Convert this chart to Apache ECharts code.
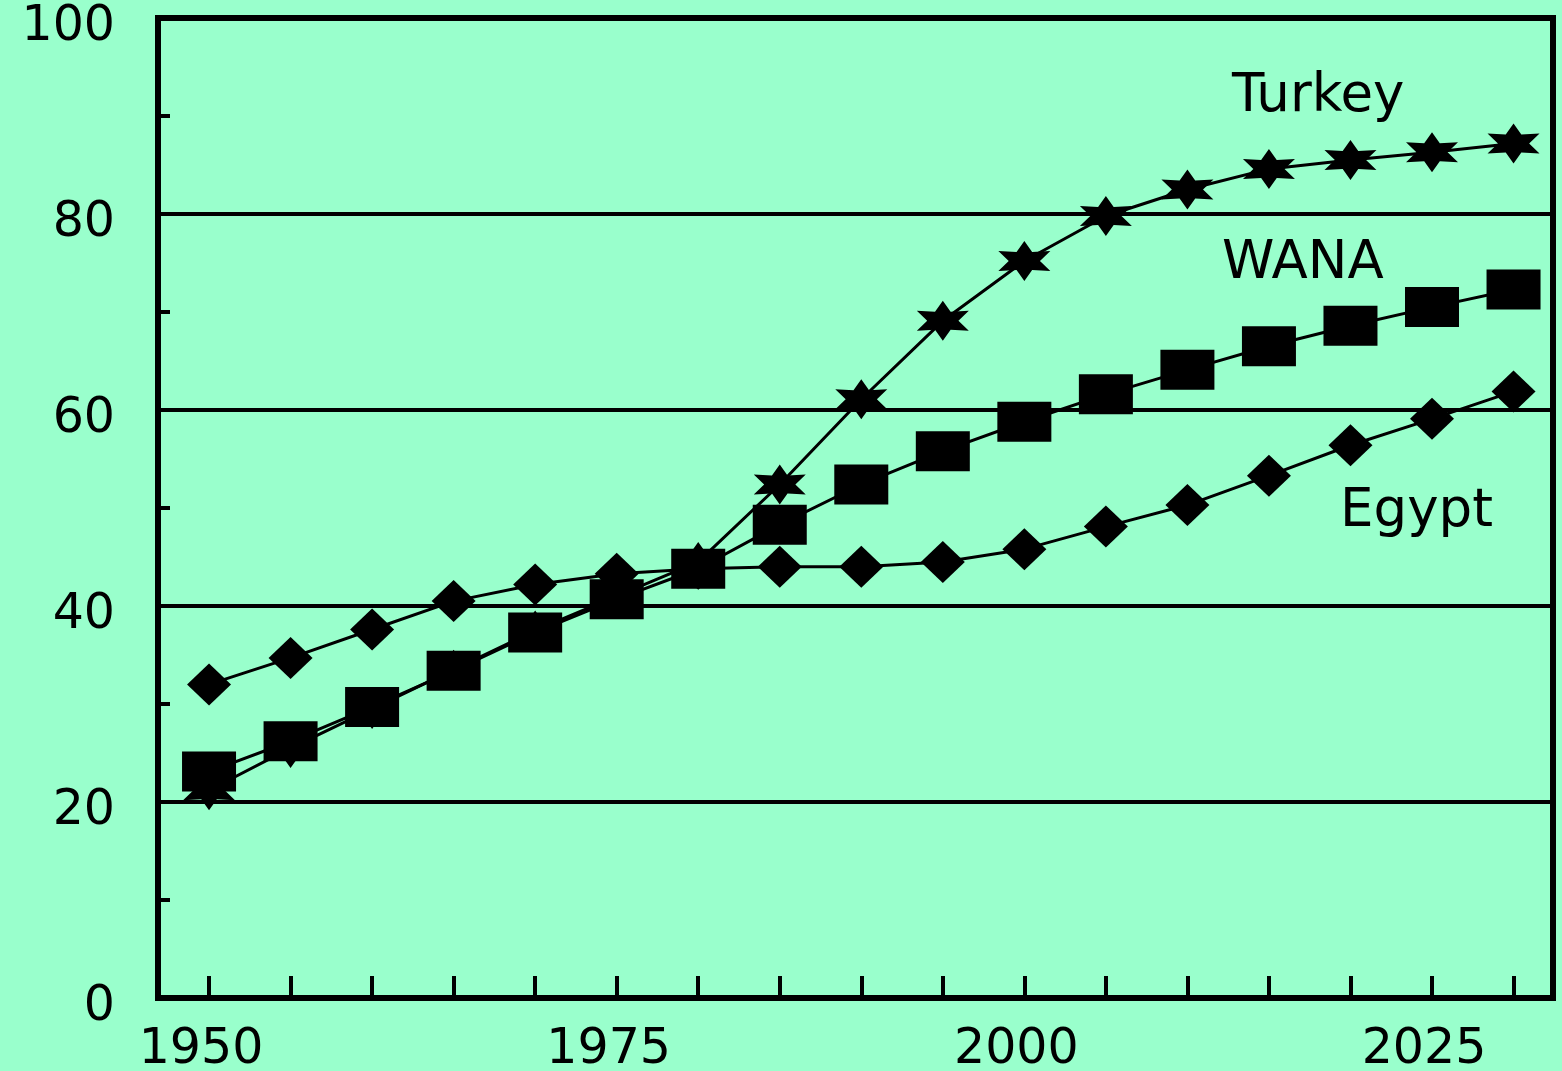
<!DOCTYPE html>
<html>
<head>
<meta charset="utf-8">
<script src="https://cdn.jsdelivr.net/npm/echarts@6/dist/echarts.min.js"></script>
<style>
  html, body { margin: 0; padding: 0; background: #99FFCC; }
  #chart { width: 1562px; height: 1071px; }
</style>
</head>
<body>
<div id="chart"></div>
<script>
// years on the x axis (every 5 years)
const years = [1950, 1955, 1960, 1965, 1970, 1975, 1980, 1985, 1990, 1995, 2000, 2005, 2010, 2015, 2020, 2025, 2030];
const yearLabels = [1950, 1975, 2000, 2025];

// percentages
const turkey = [21.2, 25.5, 29.5, 33.5, 37.5, 41, 44.5, 52.4, 61.1, 69.1, 75.2, 79.8, 82.5, 84.6, 85.5, 86.3, 87.2];
const wana = [23.1, 26.2, 29.7, 33.4, 37.3, 40.7, 43.8, 48.3, 52.4, 55.8, 58.8, 61.6, 64.1, 66.5, 68.6, 70.5, 72.3];
const egypt = [32.0, 34.7, 37.6, 40.5, 42.2, 43.3, 43.8, 44.0, 44.0, 44.5, 45.8, 48.1, 50.3, 53.3, 56.4, 59.1, 61.9];

const FONT = 'DejaVu Sans';

// six pointed star marker
function starPath() {
  let d = '';
  for (let i = 0; i < 12; i++) {
    const a = -Math.PI / 2 + i * Math.PI / 6;
    const r = i % 2 === 0 ? 50 : 26;
    const x = (r * Math.cos(a)).toFixed(2);
    const y = (r * Math.sin(a)).toFixed(2);
    d += (i === 0 ? 'M' : 'L') + x + ',' + y + ' ';
  }
  return 'path://' + d + 'Z';
}

function pairs(arr) {
  return years.map((y, i) => [y, arr[i]]);
}

const chart = echarts.init(document.getElementById('chart'));

const option = {
  backgroundColor: '#99FFCC',
  animation: false,
  grid: {
    left: 158,
    right: 9,
    top: 18,
    bottom: 73,
    outerBoundsMode: 'none',
    containLabel: false,
    show: true,
    borderColor: '#000',
    borderWidth: 6
  },
  xAxis: {
    type: 'value',
    min: 1946.87,
    max: 2032.42,
    splitLine: { show: false },
    axisLine: { show: true, lineStyle: { color: '#000', width: 5 } },
    axisTick: {
      show: true,
      inside: true,
      length: 22,
      customValues: years,
      lineStyle: { color: '#000', width: 4 }
    },
    axisLabel: {
      customValues: yearLabels,
      formatter: v => String(v),
      color: '#000',
      fontFamily: FONT,
      fontSize: 49,
      margin: 28,
      padding: [0, 16, 0, 0]
    }
  },
  yAxis: {
    type: 'value',
    min: 0,
    max: 100,
    interval: 20,
    axisLine: { show: true, lineStyle: { color: '#000', width: 6 } },
    axisTick: { show: true, inside: true, length: 12, lineStyle: { color: '#000', width: 4 } },
    minorTick: { show: true, splitNumber: 2, length: 12, lineStyle: { color: '#000', width: 4 } },
    splitLine: { show: true, lineStyle: { color: '#000', width: 4 } },
    axisLabel: {
      color: '#000',
      fontFamily: FONT,
      fontSize: 49,
      margin: 43,
      lineHeight: 18,
      verticalAlign: 'top',
      verticalAlignMinLabel: 'top',
      verticalAlignMaxLabel: 'top'
    }
  },
  graphic: [
    { type: 'text', left: 1232, top: 71, style: { text: 'Turkey', font: '53px "DejaVu Sans"', fill: '#000' } },
    { type: 'text', left: 1222, top: 238, style: { text: 'WANA', font: '53px "DejaVu Sans"', fill: '#000' } },
    { type: 'text', left: 1340, top: 486, style: { text: 'Egypt', font: '53px "DejaVu Sans"', fill: '#000' } }
  ],
  series: [
    {
      name: 'Turkey',
      type: 'line',
      data: pairs(turkey),
      symbol: starPath(),
      symbolSize: [52, 40],
      lineStyle: { color: '#000', width: 3 },
      itemStyle: { color: '#000' },
      z: 2
    },
    {
      name: 'Egypt',
      type: 'line',
      data: pairs(egypt),
      symbol: 'diamond',
      symbolSize: [44, 42],
      lineStyle: { color: '#000', width: 3 },
      itemStyle: { color: '#000' },
      z: 3
    },
    {
      name: 'WANA',
      type: 'line',
      data: pairs(wana),
      symbol: 'rect',
      symbolSize: [54, 40],
      lineStyle: { color: '#000', width: 3 },
      itemStyle: { color: '#000' },
      z: 4
    }
  ]
};

chart.setOption(option);
</script>
</body>
</html>
